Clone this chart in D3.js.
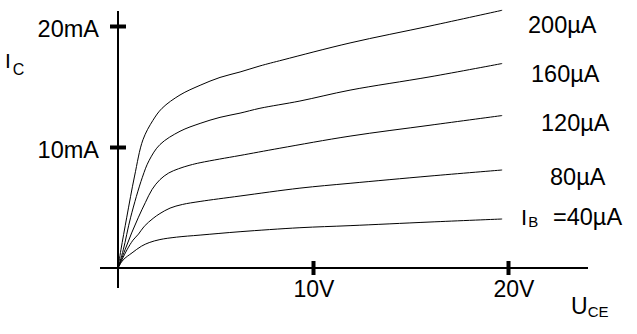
<!DOCTYPE html>
<html>
<head>
<meta charset="utf-8">
<script src="https://cdn.jsdelivr.net/npm/d3@7/dist/d3.min.js"></script>
<style>
  html, body { margin: 0; padding: 0; background: #fff; }
  svg { display: block; }
  text { font-family: "Liberation Sans", Arial, sans-serif; fill: #000; }
</style>
</head>
<body>
<svg id="chart" width="637" height="334"></svg>
<script>
// ---- data ----
const seriesNames = ["40µA", "80µA", "120µA", "160µA", "200µA"];
const ib40  = [[0,0],[0.26,0.66],[0.72,1.25],[1.2,1.8],[1.6,2.1],[2.15,2.35],[3.0,2.55],[4.21,2.72],[6.26,3.0],[9.33,3.33],[11.9,3.5],[16,3.8],[19.7,4.05]];
const ib80  = [[0,0],[0.46,1.5],[0.77,2.3],[1.05,2.8],[1.35,3.45],[1.8,4.1],[2.15,4.5],[2.67,4.95],[3.3,5.25],[4.21,5.5],[6.26,5.95],[9.33,6.6],[11.9,7.0],[16,7.6],[19.7,8.1]];
const ib120 = [[0,0],[0.36,1.5],[0.7,2.9],[1.05,4.2],[1.4,5.4],[1.75,6.5],[2.15,7.3],[2.6,7.85],[3.1,8.2],[3.69,8.5],[4.21,8.7],[5.2,9.0],[6.26,9.3],[8.3,9.9],[11.9,10.9],[16,11.8],[19.7,12.6]];
const ib160 = [[0,0],[0.27,1.5],[0.65,4.2],[1.25,7.5],[1.6,8.9],[2.15,10.2],[3.18,11.3],[4.21,11.95],[5.23,12.45],[6.26,12.8],[7.28,13.2],[9.33,13.8],[11.9,14.7],[16,15.8],[19.7,16.9]];
const ib200 = [[0,0],[0.15,1.5],[0.45,4.2],[0.85,7.6],[1.28,10.6],[1.79,12.2],[2.26,13.2],[3.18,14.3],[4.21,15.1],[5.23,15.75],[6.26,16.2],[7.28,16.7],[8.46,17.2],[11.9,18.6],[16,20.0],[19.7,21.3]];
const allSeries = [ib40, ib80, ib120, ib160, ib200];
const xTickValues = [10, 20];
const xTickLabels = ["10V", "20V"];
const yTickValues = [10, 20];
const yTickLabels = ["10mA", "20mA"];

// ---- layout ----
const svg = d3.select("#chart");
const x = d3.scaleLinear().domain([0, 20]).range([118, 508]);
const y = d3.scaleLinear().domain([0, 20]).range([268, 26]);

// axis lines
svg.append("line").attr("x1", 100).attr("x2", 588).attr("y1", y(0)).attr("y2", y(0))
  .attr("stroke", "#000").attr("stroke-width", 2);
svg.append("line").attr("x1", x(0)).attr("x2", x(0)).attr("y1", 11).attr("y2", 288)
  .attr("stroke", "#000").attr("stroke-width", 2);

// ticks via d3 axes
const xAxis = d3.axisBottom(x).tickValues(xTickValues).tickSizeInner(14).tickSizeOuter(0).tickFormat(() => "");
const gx = svg.append("g").attr("transform", `translate(0,${y(0) - 7})`).call(xAxis);
gx.select(".domain").remove();
gx.selectAll(".tick line").attr("stroke", "#000").attr("stroke-width", 4);

const yAxis = d3.axisLeft(y).tickValues(yTickValues).tickSizeInner(16).tickSizeOuter(0).tickFormat(() => "");
const gy = svg.append("g").attr("transform", `translate(${x(0) + 8},0)`).call(yAxis);
gy.select(".domain").remove();
gy.selectAll(".tick line").attr("stroke", "#000").attr("stroke-width", 4);

// tick labels
const xLabelDx = [1, 6];
xTickValues.forEach((v, i) => {
  svg.append("text").attr("x", x(v) + xLabelDx[i]).attr("y", 297)
    .attr("text-anchor", "middle").attr("font-size", 23).text(xTickLabels[i]);
});
yTickValues.forEach((v, i) => {
  svg.append("text").attr("x", 99).attr("y", y(v) + 11)
    .attr("text-anchor", "end").attr("font-size", 23.5).text(yTickLabels[i]);
});

// curves
const line = d3.line().x(d => x(d[0])).y(d => y(d[1])).curve(d3.curveCatmullRom.alpha(0.5));
svg.append("g").selectAll("path").data(allSeries).join("path")
  .attr("d", line).attr("fill", "none").attr("stroke", "#000").attr("stroke-width", 1);

// series labels
const labelPos = [[553, 225], [550, 185], [541, 131], [531, 82], [528, 33]];
seriesNames.forEach((name, i) => {
  const t = svg.append("text").attr("x", labelPos[i][0]).attr("y", labelPos[i][1]).attr("font-size", 23.5);
  t.text(i === 0 ? "=" + name : name);
});
// I_B prefix
const ib = svg.append("text").attr("x", 521).attr("y", 225).attr("font-size", 22);
ib.append("tspan").text("I");
ib.append("tspan").attr("font-size", 15).attr("dx", 1).attr("dy", 2).text("B");

// axis titles
const ic = svg.append("text").attr("x", 5).attr("y", 68).attr("font-size", 21);
ic.append("tspan").text("I");
ic.append("tspan").attr("font-size", 16).attr("dx", 2).attr("dy", 7).text("C");

const uce = svg.append("text").attr("x", 571).attr("y", 314).attr("font-size", 23);
uce.append("tspan").text("U");
uce.append("tspan").attr("font-size", 15).attr("dy", 3).text("CE");
</script>
</body>
</html>
